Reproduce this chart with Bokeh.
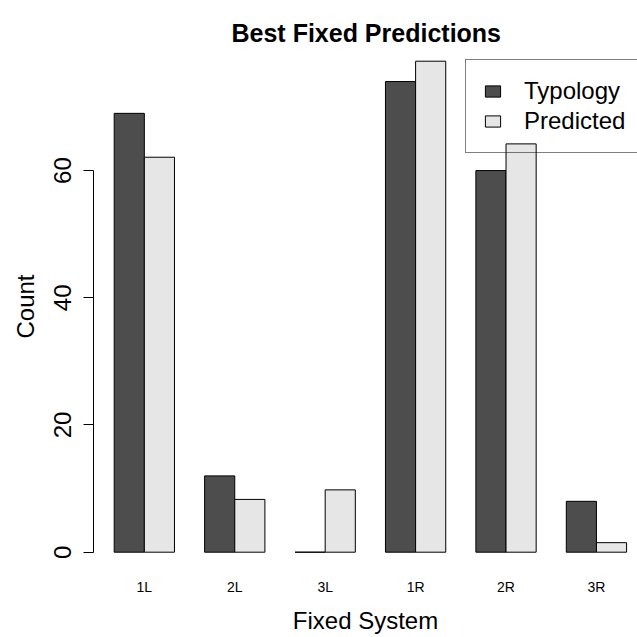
from bokeh.plotting import figure
from bokeh.models import FixedTicker, Range1d
from bokeh.embed import file_html
from bokeh.resources import INLINE

# ---- data ----
categories = ["1L", "2L", "3L", "1R", "2R", "3R"]
typology = [69, 12, 0, 74, 60, 8]
predicted = [62.1, 8.3, 9.8, 77.2, 64.2, 1.5]
series_names = ["Typology", "Predicted"]
y_ticks = [0, 20, 40, 60]

FONT = "Liberation Sans"
DARK = "#4D4D4D"
LIGHT = "#E6E6E6"

# bar positions (R barplot, beside=TRUE, space=c(0,1))
n = len(categories)
x_typ = [3 * i + 1.5 for i in range(n)]
x_pred = [3 * i + 2.5 for i in range(n)]
x_mid = [3 * i + 2 for i in range(n)]

p = figure(width=637, height=637, output_backend="svg", toolbar_location=None,
           x_range=Range1d(0.3132, 18.362), y_range=Range1d(-2.248, 79.51),
           min_border_left=93, min_border_right=0, min_border_top=46,
           min_border_bottom=71, outline_line_color=None,
           background_fill_color="white", border_fill_color="white")
p.grid.visible = False

p.vbar(x=x_typ, top=typology, bottom=0, width=1, fill_color=DARK,
       line_color="black", line_width=1, legend_label=series_names[0])
p.vbar(x=x_pred, top=predicted, bottom=0, width=1, fill_color=LIGHT,
       line_color="black", line_width=1, legend_label=series_names[1])

# title
p.title.text = "Best Fixed Predictions"
p.title.text_font = FONT
p.title.text_font_size = "25px"
p.title.text_font_style = "bold"
p.title.text_color = "black"
p.title.align = "left"
p.title.offset = 138
p.title.standoff = 0

# y axis
ya = p.yaxis[0]
ya.ticker = FixedTicker(ticks=y_ticks, minor_ticks=[])
ya.bounds = (0, 60)
ya.major_tick_out = 10
ya.major_tick_in = 0
ya.minor_tick_out = 0
ya.minor_tick_in = 0
ya.axis_line_color = "black"
ya.major_tick_line_color = "black"
ya.major_label_orientation = "vertical"
ya.major_label_text_font = FONT
ya.major_label_text_font_size = "24px"
ya.major_label_text_color = "black"
ya.major_label_standoff = 12
ya.axis_label = "Count"
ya.axis_label_text_font = FONT
ya.axis_label_text_font_size = "24px"
ya.axis_label_text_font_style = "normal"
ya.axis_label_text_color = "black"
ya.axis_label_standoff = 13

# x axis
xa = p.xaxis[0]
xa.ticker = FixedTicker(ticks=x_mid, minor_ticks=[])
xa.major_label_overrides = {m: c for m, c in zip(x_mid, categories)}
xa.axis_line_color = None
xa.major_tick_line_color = None
xa.minor_tick_line_color = None
xa.major_label_text_font = FONT
xa.major_label_text_font_size = "14px"
xa.major_label_text_color = "black"
xa.major_label_standoff = 6
xa.axis_label = "Fixed System"
xa.axis_label_text_font = FONT
xa.axis_label_text_font_size = "24px"
xa.axis_label_text_font_style = "normal"
xa.axis_label_text_color = "black"
xa.axis_label_standoff = 9

# legend
lg = p.legend[0]
lg.location = (372, 413)
lg.border_line_color = "black"
lg.border_line_width = 1
lg.background_fill_alpha = 0
lg.label_text_font = FONT
lg.label_text_font_size = "24px"
lg.label_text_color = "black"
lg.glyph_width = 19
lg.glyph_height = 14
lg.label_standoff = 22
lg.spacing = 2
lg.padding = 17
lg.margin = 0

open("out.html", "w").write(file_html(p, INLINE))
